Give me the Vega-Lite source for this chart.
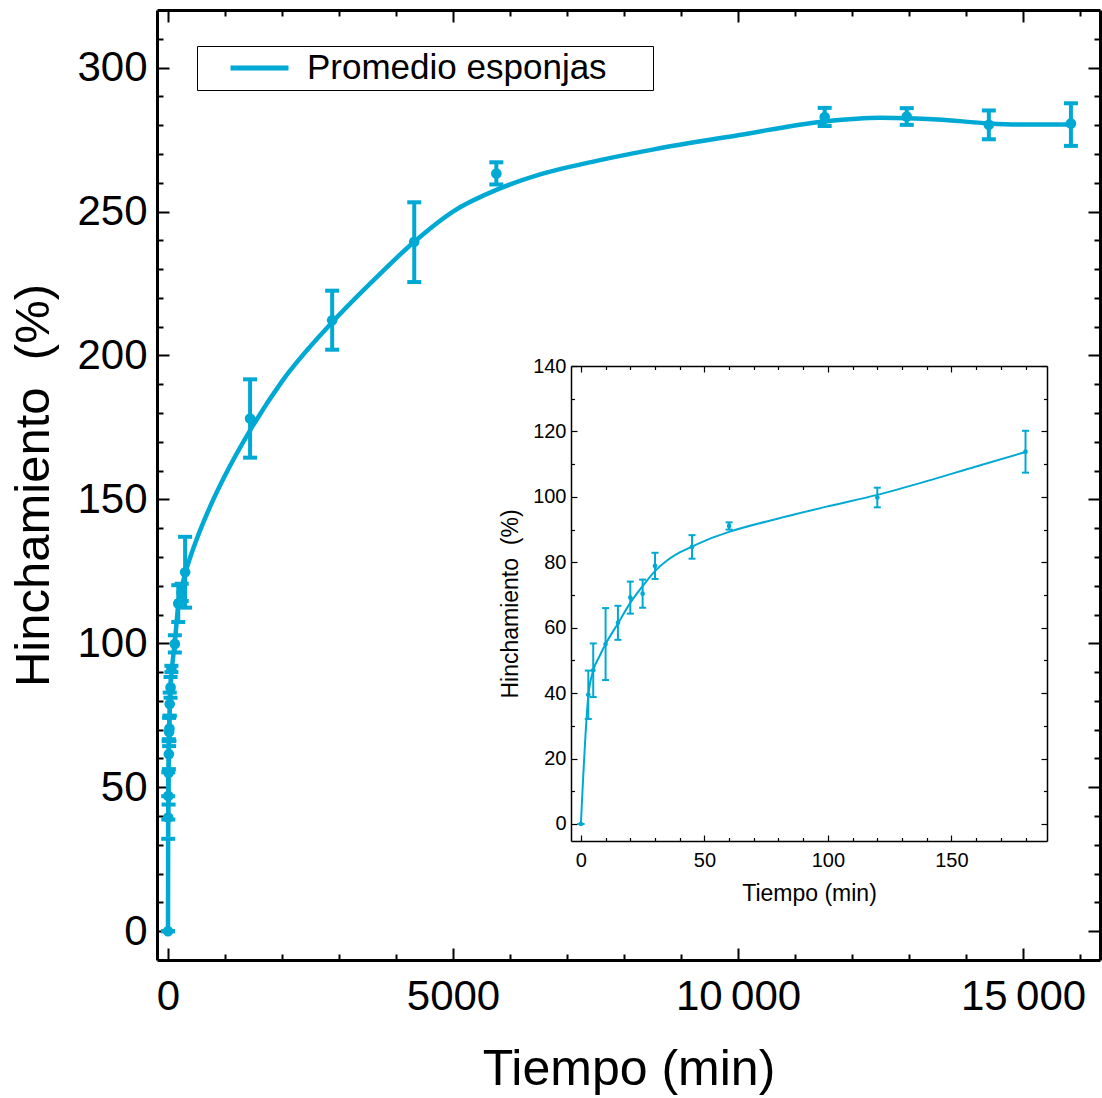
{
  "$schema": "https://vega.github.io/schema/vega-lite/v6.json",
  "width": 943,
  "height": 950,
  "autosize": {"type": "none"},
  "padding": {"left": 157, "top": 10, "right": 2, "bottom": 138},
  "background": "white",
  "config": {
    "view": {"stroke": null},
    "font": "Liberation Sans",
    "axis": {"grid": false, "labelColor": "black", "titleColor": "black", "tickColor": "black", "domainColor": "black", "titleFontWeight": "normal", "labelOverlap": false, "labelFlush": false, "labelBound": false}
  },
  "datasets": {
    "points": [
      {"t": 0, "y": 0, "lo": 0, "hi": 0},
      {"t": 3, "y": 39.5, "lo": 32.1, "hi": 46.9},
      {"t": 5, "y": 47, "lo": 38.8, "hi": 55.2},
      {"t": 10, "y": 55, "lo": 44, "hi": 66},
      {"t": 15, "y": 61.5, "lo": 56.3, "hi": 66.7},
      {"t": 20, "y": 69.2, "lo": 64.3, "hi": 74.1},
      {"t": 25, "y": 70.4, "lo": 66.1, "hi": 74.7},
      {"t": 30, "y": 78.9, "lo": 74.9, "hi": 82.9},
      {"t": 45, "y": 84.7, "lo": 81.1, "hi": 88.3},
      {"t": 60, "y": 91.1, "lo": 90, "hi": 92.2},
      {"t": 120, "y": 99.8, "lo": 96.8, "hi": 102.8},
      {"t": 180, "y": 113.8, "lo": 107.4, "hi": 120.2},
      {"t": 240, "y": 117.7, "lo": 114.7, "hi": 120.7},
      {"t": 300, "y": 124.7, "lo": 112.4, "hi": 137},
      {"t": 1440, "y": 178.1, "lo": 164.5, "hi": 191.7},
      {"t": 2880, "y": 212.2, "lo": 202, "hi": 222.5},
      {"t": 4320, "y": 239.5, "lo": 225.5, "hi": 253.2},
      {"t": 5760, "y": 263.2, "lo": 259.4, "hi": 267.1},
      {"t": 11520, "y": 282.8, "lo": 279.7, "hi": 286},
      {"t": 12960, "y": 283, "lo": 280.1, "hi": 285.9},
      {"t": 14400, "y": 280.1, "lo": 275.1, "hi": 285.1},
      {"t": 15840, "y": 280.6, "lo": 272.8, "hi": 287.6}
    ],
    "curve": [
      {"t": 0, "v": 0},
      {"t": 3, "v": 39.2},
      {"t": 5, "v": 46.9},
      {"t": 7.5, "v": 51.2},
      {"t": 10, "v": 55},
      {"t": 15, "v": 61.3},
      {"t": 20, "v": 67.6},
      {"t": 25, "v": 72.7},
      {"t": 30, "v": 77.3},
      {"t": 35, "v": 80.6},
      {"t": 40, "v": 83},
      {"t": 45, "v": 84.8},
      {"t": 52.5, "v": 87.3},
      {"t": 60, "v": 89.3},
      {"t": 80, "v": 93.4},
      {"t": 100, "v": 97.1},
      {"t": 120, "v": 100.6},
      {"t": 140, "v": 104.8},
      {"t": 160, "v": 109.3},
      {"t": 180, "v": 113.7},
      {"t": 240, "v": 119.3},
      {"t": 300, "v": 124.2},
      {"t": 400, "v": 130.5},
      {"t": 500, "v": 136},
      {"t": 750, "v": 148},
      {"t": 1000, "v": 158.3},
      {"t": 1440, "v": 174},
      {"t": 2000, "v": 191},
      {"t": 2880, "v": 211.5},
      {"t": 3600, "v": 226},
      {"t": 4320, "v": 239.5},
      {"t": 5000, "v": 250},
      {"t": 5760, "v": 257.5},
      {"t": 6500, "v": 262.7},
      {"t": 7500, "v": 267.5},
      {"t": 8500, "v": 271.5},
      {"t": 10000, "v": 276.5},
      {"t": 11520, "v": 281.3},
      {"t": 12500, "v": 282.6},
      {"t": 13500, "v": 282},
      {"t": 14400, "v": 280.6},
      {"t": 15000, "v": 280.2},
      {"t": 15840, "v": 280.2}
    ]
  },
  "layer": [
    {
      "layer": [
        {
          "data": {"name": "curve"},
          "mark": {"type": "line", "interpolate": "monotone", "strokeWidth": 4.5},
          "encoding": {
            "x": {"field": "t", "type": "quantitative", "scale": {"domain": [-193, 16350], "zero": false, "nice": false},
              "axis": {"orient": "bottom", "values": [0,1000,2000,3000,4000,5000,6000,7000,8000,9000,10000,11000,12000,13000,14000,15000,16000],
                "labelExpr": "datum.value % 5000 !== 0 ? '' : (datum.value >= 10000 ? replace(format(datum.value, ','), ',', '\u2009') : format(datum.value, 'd'))",
                "tickSize": {"condition": {"test": "datum.value % 5000 === 0", "value": -12}, "value": -6},
                "tickWidth": 2, "domainWidth": 3, "labelFontSize": 42, "labelPadding": 28,
                "title": "Tiempo (min)", "titleFontSize": 50, "titlePadding": 21}},
            "y": {"field": "v", "type": "quantitative", "scale": {"domain": [-10, 320], "zero": false, "nice": false},
              "axis": {"orient": "left", "values": [0,10,20,30,40,50,60,70,80,90,100,110,120,130,140,150,160,170,180,190,200,210,220,230,240,250,260,270,280,290,300,310],
                "labelExpr": "datum.value % 50 !== 0 ? '' : format(datum.value, 'd')",
                "tickSize": {"condition": {"test": "datum.value % 50 === 0", "value": -12}, "value": -6},
                "tickWidth": 2, "domainWidth": 3, "labelFontSize": 42, "labelPadding": 22,
                "title": "Hinchamiento\u00a0 (%)", "titleFontSize": 49, "titlePadding": 18}},
            "color": {"datum": "Promedio esponjas", "type": "nominal", "scale": {"range": ["#00A9D4"]},
              "legend": {"orient": "none", "legendX": 40, "legendY": 36, "title": null, "symbolType": "stroke", "symbolStrokeWidth": 5, "symbolSize": 3364, "clipHeight": 36, "labelFontSize": 35, "labelColor": "black", "labelLimit": 0, "labelOffset": 16, "strokeColor": "black", "padding": 4, "symbolOffset": 27,
                "labelExpr": "datum.label + '\u00a0\u00a0\u00a0\u00a0\u200a\u200b'"}}
          }
        },
        {
          "data": {"name": "points"},
          "mark": {"type": "rule", "strokeWidth": 4, "color": "#00A9D4"},
          "encoding": {
            "x": {"field": "t", "type": "quantitative", "scale": {"domain": [-193, 16350], "zero": false, "nice": false},
              "axis": {"orient": "top", "values": [0,1000,2000,3000,4000,5000,6000,7000,8000,9000,10000,11000,12000,13000,14000,15000,16000], "labels": false, "title": null,
                "tickSize": {"condition": {"test": "datum.value % 5000 === 0", "value": -12}, "value": -6},
                "tickWidth": 2, "domainWidth": 3}},
            "y": {"field": "lo", "type": "quantitative", "scale": {"domain": [-10, 320], "zero": false, "nice": false},
              "axis": {"orient": "right", "values": [0,10,20,30,40,50,60,70,80,90,100,110,120,130,140,150,160,170,180,190,200,210,220,230,240,250,260,270,280,290,300,310], "labels": false, "title": null,
                "tickSize": {"condition": {"test": "datum.value % 50 === 0", "value": -12}, "value": -6},
                "tickWidth": 2, "domainWidth": 3}},
            "y2": {"field": "hi"}
          }
        },
        {
          "data": {"name": "points"},
          "mark": {"type": "tick", "orient": "horizontal", "size": 14, "thickness": 4, "color": "#00A9D4", "opacity": 1},
          "encoding": {
            "x": {"field": "t", "type": "quantitative", "scale": {"domain": [-193, 16350], "zero": false, "nice": false}, "axis": null},
            "y": {"field": "lo", "type": "quantitative", "scale": {"domain": [-10, 320], "zero": false, "nice": false}, "axis": null}
          }
        },
        {
          "data": {"name": "points"},
          "mark": {"type": "tick", "orient": "horizontal", "size": 14, "thickness": 4, "color": "#00A9D4", "opacity": 1},
          "encoding": {
            "x": {"field": "t", "type": "quantitative", "scale": {"domain": [-193, 16350], "zero": false, "nice": false}, "axis": null},
            "y": {"field": "hi", "type": "quantitative", "scale": {"domain": [-10, 320], "zero": false, "nice": false}, "axis": null}
          }
        },
        {
          "data": {"name": "points"},
          "mark": {"type": "circle", "size": 113, "opacity": 1, "color": "#00A9D4"},
          "encoding": {
            "x": {"field": "t", "type": "quantitative", "scale": {"domain": [-193, 16350], "zero": false, "nice": false}, "axis": null},
            "y": {"field": "y", "type": "quantitative", "scale": {"domain": [-10, 320], "zero": false, "nice": false}, "axis": null}
          }
        }
      ],
      "resolve": {"axis": {"x": "independent", "y": "independent"}}
    },
    {
      "layer": [
        {
          "data": {"name": "curve"},
          "transform": [{"filter": "datum.t <= 180"}],
          "mark": {"type": "line", "interpolate": "monotone", "strokeWidth": 2, "color": "#00A9D4"},
          "encoding": {
            "x": {"field": "t", "type": "quantitative", "scale": {"domain": [-4, 188.7], "range": [414, 890], "zero": false, "nice": false},
              "axis": {"orient": "bottom", "offset": -119, "values": [0,10,20,30,40,50,60,70,80,90,100,110,120,130,140,150,160,170,180],
                "labelExpr": "datum.value % 50 !== 0 ? '' : format(datum.value, 'd')",
                "tickSize": {"condition": {"test": "datum.value % 50 === 0", "value": -6}, "value": -3.5},
                "tickWidth": 1.2, "domainWidth": 1.5, "labelFontSize": 20, "labelPadding": 15,
                "title": "Tiempo (min)", "titleFontSize": 23, "titlePadding": 10}},
            "y": {"field": "v", "type": "quantitative", "scale": {"domain": [-5.2, 140], "range": [831, 356], "zero": false, "nice": false},
              "axis": {"orient": "left", "offset": -414, "values": [0,10,20,30,40,50,60,70,80,90,100,110,120,130,140],
                "labelExpr": "datum.value % 20 !== 0 ? '' : format(datum.value, 'd')",
                "tickSize": {"condition": {"test": "datum.value % 20 === 0", "value": -6}, "value": -3.5},
                "tickWidth": 1.2, "domainWidth": 1.5, "labelFontSize": 20, "labelPadding": 11,
                "title": "Hinchamiento\u00a0 (%)", "titleFontSize": 23, "titlePadding": 10}}
          }
        },
        {
          "data": {"name": "points"},
          "transform": [{"filter": "datum.t <= 180"}],
          "mark": {"type": "rule", "strokeWidth": 2, "color": "#00A9D4"},
          "encoding": {
            "x": {"field": "t", "type": "quantitative", "scale": {"domain": [-4, 188.7], "range": [414, 890], "zero": false, "nice": false},
              "axis": {"orient": "top", "offset": -356, "values": [0,10,20,30,40,50,60,70,80,90,100,110,120,130,140,150,160,170,180], "labels": false, "title": null,
                "tickSize": {"condition": {"test": "datum.value % 50 === 0", "value": -6}, "value": -3.5},
                "tickWidth": 1.2, "domainWidth": 1.5}},
            "y": {"field": "lo", "type": "quantitative", "scale": {"domain": [-5.2, 140], "range": [831, 356], "zero": false, "nice": false},
              "axis": {"orient": "right", "offset": -53, "values": [0,10,20,30,40,50,60,70,80,90,100,110,120,130,140], "labels": false, "title": null,
                "tickSize": {"condition": {"test": "datum.value % 20 === 0", "value": -6}, "value": -3.5},
                "tickWidth": 1.2, "domainWidth": 1.5}},
            "y2": {"field": "hi"}
          }
        },
        {
          "data": {"name": "points"},
          "transform": [{"filter": "datum.t <= 180"}],
          "mark": {"type": "tick", "orient": "horizontal", "size": 7, "thickness": 2, "color": "#00A9D4", "opacity": 1},
          "encoding": {
            "x": {"field": "t", "type": "quantitative", "scale": {"domain": [-4, 188.7], "range": [414, 890], "zero": false, "nice": false}, "axis": null},
            "y": {"field": "lo", "type": "quantitative", "scale": {"domain": [-5.2, 140], "range": [831, 356], "zero": false, "nice": false}, "axis": null}
          }
        },
        {
          "data": {"name": "points"},
          "transform": [{"filter": "datum.t <= 180"}],
          "mark": {"type": "tick", "orient": "horizontal", "size": 7, "thickness": 2, "color": "#00A9D4", "opacity": 1},
          "encoding": {
            "x": {"field": "t", "type": "quantitative", "scale": {"domain": [-4, 188.7], "range": [414, 890], "zero": false, "nice": false}, "axis": null},
            "y": {"field": "hi", "type": "quantitative", "scale": {"domain": [-5.2, 140], "range": [831, 356], "zero": false, "nice": false}, "axis": null}
          }
        },
        {
          "data": {"name": "points"},
          "transform": [{"filter": "datum.t <= 180"}],
          "mark": {"type": "circle", "size": 22, "opacity": 1, "color": "#00A9D4"},
          "encoding": {
            "x": {"field": "t", "type": "quantitative", "scale": {"domain": [-4, 188.7], "range": [414, 890], "zero": false, "nice": false}, "axis": null},
            "y": {"field": "y", "type": "quantitative", "scale": {"domain": [-5.2, 140], "range": [831, 356], "zero": false, "nice": false}, "axis": null}
          }
        }
      ],
      "resolve": {"axis": {"x": "independent", "y": "independent"}}
    }
  ],
  "resolve": {"scale": {"x": "independent", "y": "independent"}, "axis": {"x": "independent", "y": "independent"}}
}
